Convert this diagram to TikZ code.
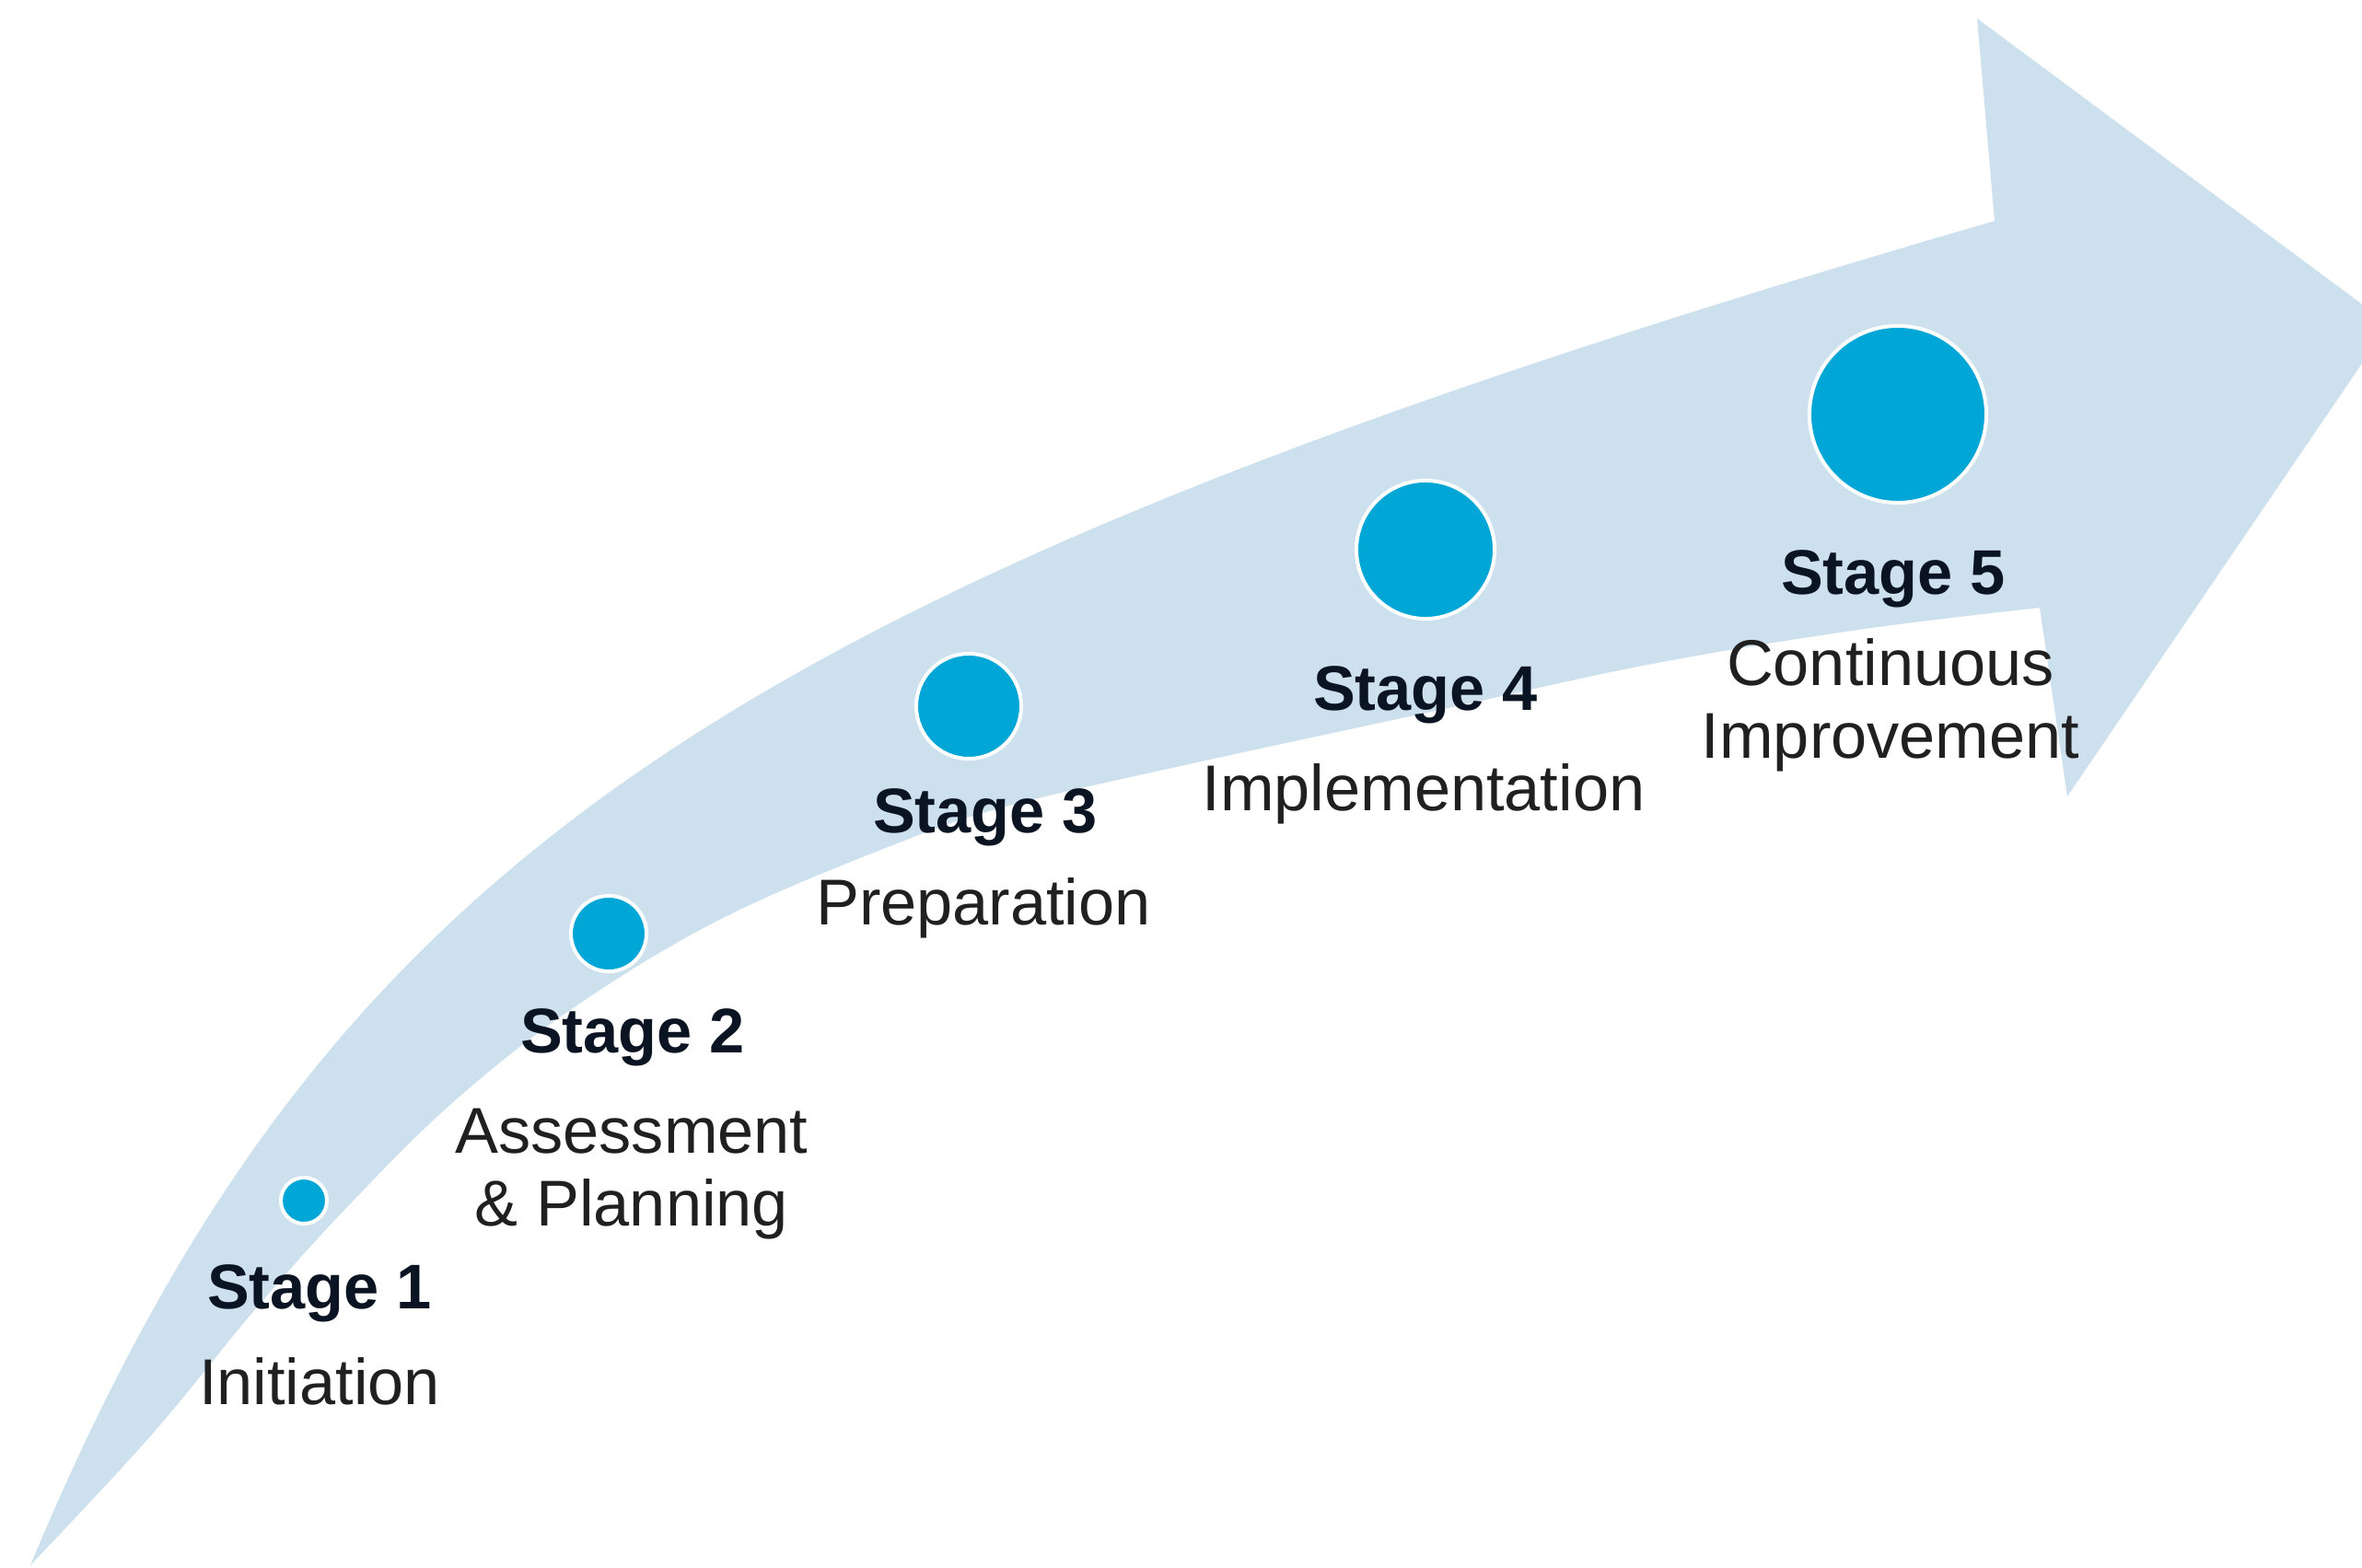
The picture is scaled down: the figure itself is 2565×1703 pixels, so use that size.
\documentclass[tikz,border=0pt]{standalone}
\usepackage{fontspec}
\setmainfont{Liberation Sans}
\definecolor{arrowblue}{HTML}{CCE0EE}
\definecolor{dotblue}{HTML}{00A6D6}
\definecolor{txt}{HTML}{202020}
\definecolor{ttl}{HTML}{0B1422}
\begin{document}
\begin{tikzpicture}[x=0.01cm,y=-0.01cm,
  stagedot/.style={circle, fill=dotblue, draw=white, line width=0.04cm, inner sep=0pt},
  stagetitle/.style={font=\fontsize{19.5}{22}\selectfont\bfseries, text=ttl, inner sep=0pt},
  stagedesc/.style={font=\fontsize{20}{22.5}\selectfont, text=txt, align=center, inner sep=0pt}]
\useasboundingbox (0,0) rectangle (2565,1703);
\fill[white] (0,0) rectangle (2565,1703);
\begin{scope}
\clip (0,0) rectangle (2565,1703);
\fill[arrowblue] (33,1700) .. controls (353,935) and (780,642) .. (2166,240)
  -- (2147,20) -- (2594,352) -- (2245,865) -- (2215,660)
  -- plot[smooth, tension=0.6] coordinates {(2215,660) (2018,684) (1789,722) (1559,772) (1300,828) (1100,874) (982,913) (785,997) (622,1095) (491,1198) (376,1312) (278,1421) (164,1559) (33,1700)}
  -- cycle;
\end{scope}
% dots
\node[stagedot, minimum size=0.50cm] (d1) at (330,1304) {};
\node[stagedot, minimum size=0.82cm] (d2) at (661,1014) {};
\node[stagedot, minimum size=1.14cm] (d3) at (1052,767) {};
\node[stagedot, minimum size=1.50cm] (d4) at (1548,597) {};
\node[stagedot, minimum size=1.92cm] (d5) at (2061,450) {};
% titles
\node[stagetitle] (t1) at (347,1405) {Stage 1};
\node[stagetitle] (t2) at (687,1127) {Stage 2};
\node[stagetitle] (t3) at (1070,888) {Stage 3};
\node[stagetitle] (t4) at (1548,755) {Stage 4};
\node[stagetitle] (t5) at (2056,629) {Stage 5};
% descriptions
\node[stagedesc] (s1) at (347,1500) {Initiation};
\node[stagedesc] (s2) at (686,1275) {Assessment\\\& Planning};
\node[stagedesc] (s3) at (1068,986) {Preparation};
\node[stagedesc] (s4) at (1546,862) {Implementation};
\node[stagedesc] (s5) at (2053,766) {Continuous\\Improvement};
\end{tikzpicture}
\end{document}
